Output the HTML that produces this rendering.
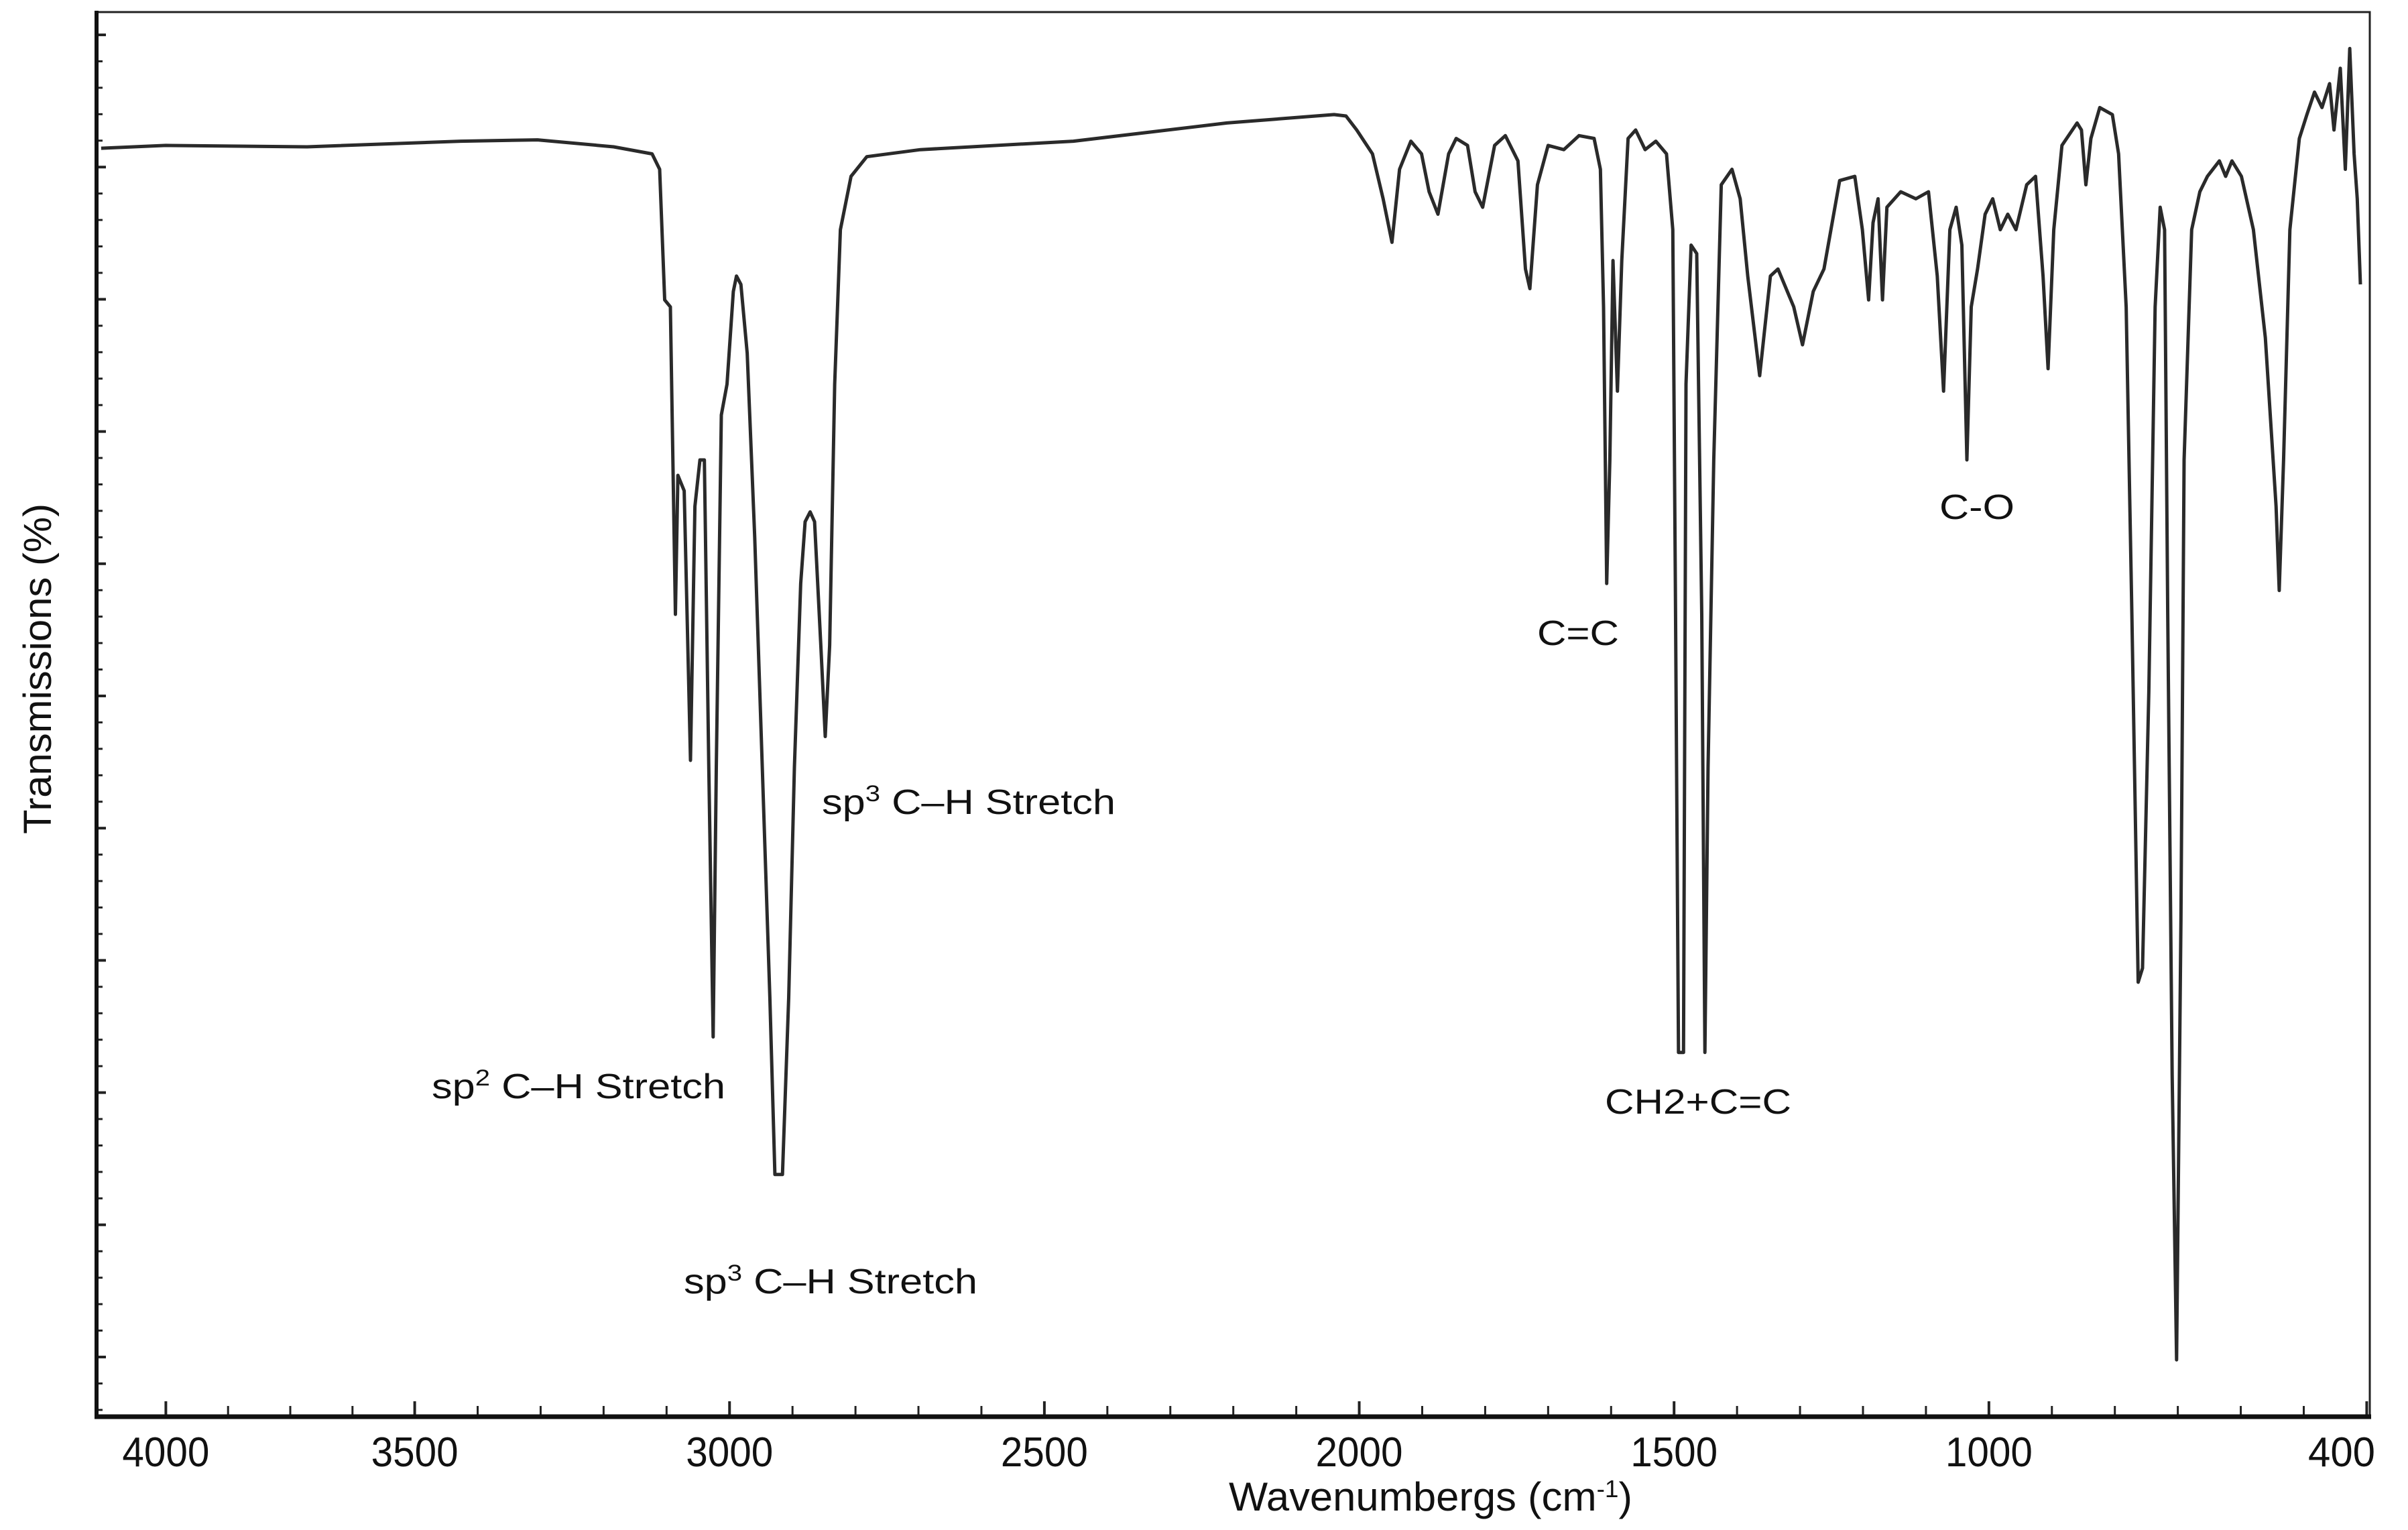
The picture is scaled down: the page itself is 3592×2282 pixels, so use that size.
<!DOCTYPE html>
<html>
<head>
<meta charset="utf-8">
<style>
  html, body { margin: 0; padding: 0; background: #ffffff; }
  svg { display: block; }
  text { font-family: "Liberation Sans", Arial, sans-serif; fill: #111; }
</style>
</head>
<body>
<svg id="chart" width="3592" height="2282" viewBox="0 0 3592 2282" xmlns="http://www.w3.org/2000/svg">
  <rect x="0" y="0" width="3592" height="2282" fill="#ffffff"/>
  <g id="ticks"></g>
  <path id="spectrum" fill="none" stroke="#2a2a2a" stroke-width="5" stroke-linejoin="round"/>
  <rect x="144" y="18" width="3391" height="2095" fill="none" stroke="#222" stroke-width="3"/>
  <line x1="144" y1="16" x2="144" y2="2116" stroke="#111" stroke-width="6"/>
  <line x1="141" y1="2113" x2="3537" y2="2113" stroke="#111" stroke-width="7"/>
  <g id="xlabels"></g>
  <text x="1833" y="2253" font-size="60" textLength="602" lengthAdjust="spacingAndGlyphs">Wavenumbergs (cm<tspan baseline-shift="super" font-size="36">-1</tspan>)</text>
  <text transform="translate(76,1244) rotate(-90)" x="0" y="0" font-size="58" textLength="493" lengthAdjust="spacingAndGlyphs">Transmissions (%)</text>

  <text x="644" y="1638" font-size="52" textLength="438" lengthAdjust="spacingAndGlyphs">sp<tspan baseline-shift="super" font-size="34">2</tspan> C–H Stretch</text>
  <text x="1226" y="1214" font-size="52" textLength="438" lengthAdjust="spacingAndGlyphs">sp<tspan baseline-shift="super" font-size="34">3</tspan> C–H Stretch</text>
  <text x="1020" y="1929" font-size="52" textLength="438" lengthAdjust="spacingAndGlyphs">sp<tspan baseline-shift="super" font-size="34">3</tspan> C–H Stretch</text>
  <text x="2293" y="962" font-size="52" textLength="122" lengthAdjust="spacingAndGlyphs">C=C</text>
  <text x="2394" y="1661" font-size="52" textLength="278" lengthAdjust="spacingAndGlyphs">CH2+C=C</text>
  <text x="2893" y="774" font-size="52" textLength="112" lengthAdjust="spacingAndGlyphs">C-O</text>
</svg>
<script>
// Spectrum data: wavenumber (cm-1) and transmission (%)
const wavenumbers = [4130,4000,3716,3427,3305,3184,3123,3111,3103,3094,3086,3082,3072,3062,3055,3047,3040,3033,3026,3021,3013,3004,2994,2989,2982,2972,2960,2948,2936,2928,2916,2906,2897,2887,2880,2872,2865,2855,2848,2841,2833,2824,2807,2782,2697,2454,2210,2040,2021,2004,1979,1962,1948,1936,1918,1901,1889,1875,1858,1846,1828,1816,1804,1785,1768,1748,1736,1729,1717,1700,1675,1651,1627,1617,1612,1607,1602,1597,1590,1583,1573,1561,1546,1529,1512,1502,1498,1493,1485,1481,1473,1464,1456,1451,1446,1437,1425,1408,1395,1383,1364,1347,1335,1310,1296,1279,1262,1237,1213,1201,1191,1184,1176,1169,1162,1140,1116,1096,1082,1072,1062,1052,1043,1035,1028,1018,1006,994,982,970,957,940,926,914,906,897,884,860,853,846,838,824,804,794,782,773,763,756,746,736,728,721,716,709,702,695,690,678,665,653,634,624,614,599,580,561,544,539,532,522,507,495,483,471,459,452,442,434,427,420,415,410];
const transmission = [90.3,90.5,90.4,90.8,90.9,90.4,89.9,88.8,79.5,79.0,57.1,67.0,65.9,46.7,64.8,68.1,68.1,46.2,27.0,46.2,71.3,73.5,80.1,81.2,80.6,75.7,62.6,46.2,29.8,17.2,17.2,29.8,46.2,59.3,63.7,64.4,63.7,54.9,48.4,54.9,73.5,84.5,88.3,89.7,90.2,90.8,92.1,92.7,92.6,91.6,89.9,86.7,83.6,88.8,90.8,89.9,87.2,85.6,89.9,91.0,90.5,87.2,86.1,90.5,91.2,89.4,81.7,80.3,87.7,90.5,90.2,91.2,91.0,88.8,79.0,59.3,68.1,82.3,73.0,82.3,91.0,91.6,90.2,90.8,89.9,84.5,59.3,25.9,25.9,73.5,83.4,82.8,57.1,25.9,46.2,68.1,87.7,88.8,86.7,81.2,74.1,81.2,81.7,79.0,76.3,80.1,81.7,88.0,88.3,84.5,79.5,85.0,86.7,79.5,86.1,87.2,86.7,87.2,81.2,73.0,84.5,86.1,83.4,68.1,79.0,81.7,85.6,86.7,84.5,85.6,84.5,87.7,88.3,81.2,74.6,84.5,90.5,92.1,91.6,87.7,91.0,93.2,92.7,89.9,79.0,57.1,30.9,31.9,51.6,79.0,86.1,84.5,57.1,24.3,4.0,35.3,68.1,84.5,87.2,88.3,89.4,88.3,89.4,88.3,84.5,76.8,64.8,58.8,68.1,84.5,91.0,92.7,94.3,93.2,94.9,91.6,96.0,88.8,97.4,89.9,86.7,80.6];
const xTickValues = [4000,3500,3000,2500,2000,1500,1000,400];
const xTickLabels = ["4000","3500","3000","2500","2000","1500","1000","400"];

const NS = "http://www.w3.org/2000/svg";
function xScale(w) {
  if (w > 3500) return 618.6 - (w - 3500) * 0.7424;
  return 618.6 + (3500 - w) * 0.9393;
}
function yScale(t) { return 2112 - t / 100 * 2094; }

let d = "";
for (let i = 0; i < wavenumbers.length; i++) {
  d += (i ? "L" : "M") + xScale(wavenumbers[i]).toFixed(1) + "," + yScale(transmission[i]).toFixed(1);
}
document.getElementById("spectrum").setAttribute("d", d);

const ticks = document.getElementById("ticks");
function addLine(x1, y1, x2, y2, w, name) {
  const l = document.createElementNS(NS, "line");
  l.setAttribute("x1", x1); l.setAttribute("y1", y1);
  l.setAttribute("x2", x2); l.setAttribute("y2", y2);
  l.setAttribute("stroke", "#222"); l.setAttribute("stroke-width", w);
  
  
  ticks.appendChild(l);
}
const xMinor = [3875,3750,3625];
for (let w = 3400; w > 400; w -= 100) xMinor.push(w);
xMinor.forEach(w => addLine(xScale(w), 2113, xScale(w), 2097, 3, "x-minor-tick"));
xTickValues.forEach(w => addLine(xScale(w), 2113, xScale(w), 2090, 4, "x-major-tick"));

for (let k = 0; k <= 10; k++) {
  const y = 52 + k * 197.2;
  addLine(144, y, 158, y, 4, "y-major-tick");
  for (let m = 1; m < 5; m++) {
    const ym = y + m * 39.44;
    if (ym < 2110) addLine(144, ym, 153, ym, 3, "y-minor-tick");
  }
}

const xl = document.getElementById("xlabels");
xTickValues.forEach((w, i) => {
  const t = document.createElementNS(NS, "text");
  let x = xScale(w);
  const txt = xTickLabels[i];
  const len = txt.length === 4 ? 130 : 100;
  if (w === 400) x = 3535 - len / 2 + 8;
  t.setAttribute("x", x - len / 2);
  t.setAttribute("y", 2187);
  t.setAttribute("font-size", "62");
  t.setAttribute("textLength", len);
  t.setAttribute("lengthAdjust", "spacingAndGlyphs");
  t.textContent = txt;
  
  
  xl.appendChild(t);
});
</script>
</body>
</html>
